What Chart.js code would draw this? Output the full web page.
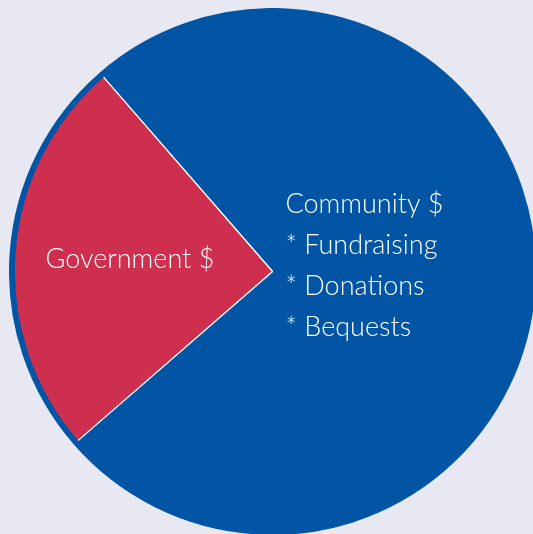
<!DOCTYPE html>
<html>
<head>
<meta charset="utf-8">
<script src="https://cdn.jsdelivr.net/npm/chart.js@4"></script>
<style>
    html, body { margin: 0; padding: 0; width: 533px; height: 534px; overflow: hidden; background: #e8e8f2; }
    #wrap { position: absolute; left: 9px; top: 8px; width: 527px; height: 527px; }
</style>
</head>
<body>
<div id="wrap"><canvas id="funding-canvas"></canvas></div>
<script>
(function () {
    'use strict';

    // funding split (red wedge is a quarter turn)
    var categories = ['Community $', 'Government $'];
    var shares = [75, 25];
    var communityLines = ['Community $', '* Fundraising', '* Donations', '* Bequests'];
    var governmentLines = ['Government $'];

    var blue = '#0255a5';
    var red = '#ce2f4e';

    var labelPlugin = {
        id: 'sliceLabels',
        afterDatasetsDraw: function (chart) {
            var arc = chart.getDatasetMeta(1).data[0];
            if (!arc) return;
            var cx = arc.x;
            var cy = arc.y;
            var ctx = chart.ctx;
            ctx.save();
            ctx.fillStyle = '#ffffff';
            ctx.font = '300 27px Lato, "Noto Sans", sans-serif';
            ctx.textAlign = 'left';
            ctx.textBaseline = 'alphabetic';
            governmentLines.forEach(function (t, i) {
                ctx.fillText(t, cx - 227, cy - 4 + i * 41);
            });
            communityLines.forEach(function (t, i) {
                ctx.fillText(t, cx + 13, cy - 59 + i * 41);
            });
            ctx.restore();
        }
    };

    new Chart(document.getElementById('funding-canvas'), {
        type: 'pie',
        data: {
            labels: categories,
            datasets: [
                {
                    // thin blue rim round the red wedge; drawn last, so it hides the white arc edge below
                    data: shares,
                    backgroundColor: [blue, blue],
                    borderColor: blue,
                    borderWidth: 3,
                    weight: 3,
                },
                {
                    data: shares,
                    backgroundColor: [blue, red],
                    borderColor: '#ffffff',
                    borderWidth: 1.2,
                    weight: 259,
                },
            ],
        },
        options: {
            responsive: true,
            maintainAspectRatio: false,
            animation: false,
            rotation: -41,
            layout: { padding: 0 },
            plugins: {
                legend: { display: false },
                tooltip: { enabled: false },
            },
        },
        plugins: [labelPlugin],
    });
})();
</script>
</body>
</html>
